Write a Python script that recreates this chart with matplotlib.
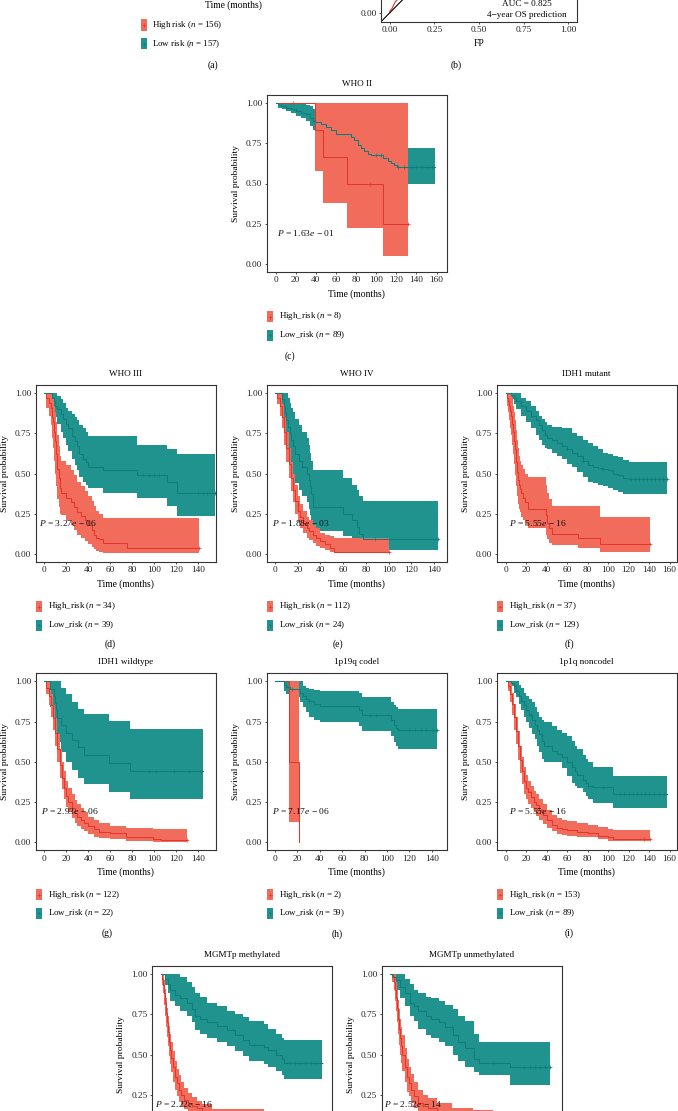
import numpy as np
import matplotlib
matplotlib.use("Agg")
import matplotlib.pyplot as plt
from matplotlib.patches import Rectangle

W, H = 678, 1111
plt.rcParams['font.family'] = ['Liberation Serif', 'DejaVu Serif']
plt.rcParams['mathtext.fontset'] = 'custom'
plt.rcParams['mathtext.rm'] = 'Liberation Serif'
plt.rcParams['mathtext.it'] = 'Liberation Serif:italic'

RED_FILL, RED_LINE = '#F26C5C', '#E4362A'
TEAL_FILL, TEAL_LINE = '#20938E', '#0F7E7A'
DARK = '#333333'

# === ROC (b), only the bottom part is visible ===
roc_fp = [0.0, 0.0, 0.01, 0.02, 0.03, 0.05, 0.07, 0.10, 0.15, 0.25, 0.40, 0.60, 0.80, 1.0]
roc_tp = [0.0, 0.01, 0.02, 0.04, 0.06, 0.08, 0.11, 0.20, 0.35, 0.55, 0.72, 0.85, 0.94, 1.0]

# === KM curves: t = step times, s = survival, lo/up = confidence band ===
# (c) WHO II
c_high_t = [0, 39, 47, 71, 107, 132]
c_high_s = [1, .833, .667, .5, .25, .25]
c_high_lo = [1, .58, .378, .226, .05, .05]
c_high_up = [1, 1, 1, 1, 1, 1]
c_low_t = [0, 2, 6, 10, 15, 20, 25, 30, 34, 37, 39, 45, 50, 55, 60, 75, 78, 82, 85, 88, 92, 95, 107, 112, 115, 118, 121, 158]
c_low_s = [1, .99, .98, .97, .96, .95, .94, .93, .91, .89, .88, .87, .85, .83, .81, .79, .77, .74, .72, .70, .685, .675, .66, .64, .63, .615, .60, .60]
c_low_lo = [1, .97, .96, .95, .94, .92, .91, .89, .86, .83, .81, .80, .78, .76, .73, .71, .69, .66, .63, .61, .59, .58, .56, .54, .53, .515, .50, .50]
c_low_up = [1, 1, 1, 1, 1, 1, 1, .99, .98, .965, .96, .955, .94, .93, .91, .90, .88, .86, .84, .82, .81, .80, .79, .77, .76, .74, .72, .72]
c_cens_high = [17, 94, 132]
c_cens_low = [100, 105, 122, 128, 135, 140, 145, 150, 155]

# (d) WHO III
d_high_t = [0, 2, 4, 6, 7, 8, 9, 10, 11, 12, 13, 14, 15.5, 20, 24, 27, 30, 33, 37, 40, 43, 45, 47, 50, 53, 75, 141]
d_high_s = [1, .97, .94, .91, .85, .82, .76, .70, .62, .53, .47, .41, .38, .35, .32, .29, .26, .235, .21, .18, .15, .12, .10, .09, .065, .035, .035]
d_high_lo = [1, .91, .86, .80, .72, .66, .58, .50, .42, .34, .29, .25, .24, .21, .18, .15, .12, .10, .08, .06, .045, .03, .02, .012, .005, .003, .003]
d_high_up = [1, 1, 1, 1, .98, .96, .92, .88, .82, .74, .67, .61, .58, .55, .52, .49, .45, .42, .39, .36, .33, .30, .27, .25, .223, .223, .223]
d_low_t = [0, 7, 9, 10, 12, 15, 17, 20, 22, 25, 28, 30, 32, 35, 38, 40, 53, 84, 112, 121, 155]
d_low_s = [1, .97, .95, .92, .90, .87, .84, .81, .78, .73, .70, .67, .62, .59, .57, .54, .52, .49, .445, .38, .38]
d_low_lo = [1, .93, .89, .85, .81, .76, .72, .68, .64, .59, .55, .52, .48, .45, .43, .41, .38, .35, .30, .235, .235]
d_low_up = [1, 1, 1, 1, .98, .96, .94, .91, .89, .87, .85, .83, .80, .78, .76, .73, .73, .68, .65, .62, .62]
d_cens_high = [141]
d_cens_low = [90, 95, 100, 104, 140, 144, 148, 155]

# (e) WHO IV
e_high_t = [0, 2, 4, 6, 8, 10, 12, 14, 16, 18, 20, 22, 25, 28, 30, 33, 36, 40, 44, 48, 52, 100]
e_high_s = [1, .97, .92, .85, .76, .66, .56, .47, .40, .33, .27, .23, .19, .16, .14, .12, .10, .08, .06, .04, .015, .015]
e_high_lo = [1, .93, .86, .78, .68, .57, .47, .39, .32, .25, .20, .16, .13, .10, .085, .07, .05, .035, .025, .015, .003, .003]
e_high_up = [1, 1, 1, .93, .85, .76, .66, .57, .50, .43, .36, .31, .27, .23, .21, .18, .16, .13, .12, .11, .10, .10]
e_low_t = [0, 6, 8, 9, 10, 11, 13, 14, 16, 18, 21, 24, 28, 30, 31, 32, 33, 60, 68, 72, 74, 77, 143]
e_low_s = [1, .96, .92, .875, .83, .79, .75, .71, .67, .62, .58, .54, .50, .46, .42, .375, .29, .25, .21, .17, .125, .09, .09]
e_low_lo = [1, .88, .82, .76, .70, .65, .59, .54, .49, .44, .40, .36, .32, .28, .24, .20, .14, .11, .08, .06, .04, .025, .025]
e_low_up = [1, 1, 1, 1, 1, .97, .94, .91, .88, .84, .80, .76, .72, .68, .63, .58, .52, .47, .43, .40, .36, .33, .33]
e_cens_high = [100]
e_cens_low = [88, 143]

# (f) IDH1 mutant
f_high_t = [0, 1, 2, 3, 4, 5, 6, 7, 8, 9, 10, 11, 12, 13, 14, 15, 17, 19, 22, 39, 40, 42, 45, 71, 92, 141]
f_high_s = [1, .97, .95, .92, .89, .86, .81, .76, .70, .65, .57, .51, .46, .43, .405, .38, .35, .32, .28, .24, .19, .16, .125, .10, .06, .06]
f_high_lo = [1, .92, .88, .83, .78, .74, .68, .62, .56, .49, .42, .36, .31, .28, .26, .23, .21, .18, .16, .12, .09, .07, .055, .035, .015, .015]
f_high_up = [1, 1, 1, 1, 1, 1, .97, .92, .88, .83, .77, .71, .66, .61, .58, .55, .53, .50, .48, .43, .38, .34, .30, .30, .23, .23]
f_low_t = [0, 5, 8, 10, 15, 20, 25, 30, 33, 35, 38, 40, 45, 50, 55, 60, 65, 70, 75, 80, 85, 90, 95, 100, 105, 110, 115, 120, 158]
f_low_s = [1, .99, .97, .95, .92, .89, .86, .83, .80, .77, .74, .72, .71, .69, .67, .65, .63, .61, .58, .55, .54, .535, .53, .52, .50, .49, .475, .465, .465]
f_low_lo = [1, .96, .93, .90, .86, .82, .78, .74, .71, .68, .66, .65, .63, .61, .59, .56, .54, .51, .48, .45, .44, .43, .42, .41, .40, .385, .375, .375, .375]
f_low_up = [1, 1, 1, 1, .97, .95, .92, .89, .86, .84, .82, .80, .79, .79, .78, .78, .75, .73, .71, .69, .67, .65, .63, .62, .61, .60, .585, .57, .57]
f_cens_high = [141]
f_cens_low = [60, 75, 95, 122, 126, 130, 134, 138, 142, 146, 150, 154, 158]

# (g) IDH1 wildtype
g_high_t = [0, 2, 4, 6, 8, 10, 12, 14, 16, 18, 20, 22, 25, 28, 30, 33, 36, 40, 45, 50, 60, 74, 99, 106, 130]
g_high_s = [1, .96, .91, .85, .77, .68, .58, .48, .40, .34, .29, .25, .21, .18, .16, .14, .12, .10, .08, .065, .055, .035, .02, .012, .012]
g_high_lo = [1, .92, .85, .78, .70, .60, .50, .40, .33, .27, .22, .19, .15, .12, .10, .085, .07, .05, .035, .025, .018, .01, .004, .002, .002]
g_high_up = [1, 1, 1, .92, .85, .77, .67, .58, .50, .44, .38, .34, .30, .26, .24, .21, .19, .16, .14, .12, .10, .09, .085, .085, .085]
g_low_t = [0, 5, 9, 10, 11, 12, 15, 20, 25, 31, 36, 59, 78, 144]
g_low_s = [1, .955, .91, .865, .82, .77, .73, .68, .635, .59, .545, .49, .44, .44]
g_low_lo = [1, .84, .77, .72, .66, .62, .56, .50, .45, .40, .36, .31, .27, .27]
g_low_up = [1, 1, 1, 1, 1, 1, .96, .92, .87, .83, .80, .755, .705, .705]
g_cens_high = [130]
g_cens_low = [95, 102, 118, 132, 143]

# (h) 1p19q codel
h_high_t = [0, 12.5, 21]
h_high_s = [1, .5, 0]
h_high_lo = [1, .125, .125]
h_high_up = [1, 1, 1]
h_low_t = [0, 8, 10, 13, 22, 25, 28, 30, 35, 40, 75, 78, 104, 106, 108, 110, 145]
h_low_s = [1, .98, .965, .95, .93, .91, .89, .875, .86, .845, .82, .79, .76, .73, .71, .695, .695]
h_low_lo = [1, .94, .92, .90, .87, .84, .81, .78, .76, .75, .72, .69, .66, .62, .60, .58, .58]
h_low_up = [1, 1, 1, 1, 1, .97, .96, .95, .945, .94, .93, .90, .87, .85, .84, .83, .83]
h_cens_high = []
h_cens_low = [15, 30, 85, 90, 120, 125, 130, 135, 140, 145]

# (i) 1p1q noncodel
i_high_t = [0, 2, 4, 6, 8, 10, 12, 14, 16, 18, 20, 22, 25, 28, 30, 33, 36, 40, 45, 50, 55, 60, 70, 80, 90, 100, 105, 141]
i_high_s = [1, .97, .92, .86, .78, .69, .60, .51, .44, .38, .34, .31, .28, .25, .23, .20, .17, .14, .11, .09, .08, .075, .065, .055, .04, .03, .023, .023]
i_high_lo = [1, .94, .87, .79, .70, .61, .51, .43, .36, .30, .27, .24, .21, .185, .165, .14, .115, .09, .07, .05, .045, .04, .035, .03, .02, .01, .005, .005]
i_high_up = [1, 1, 1, .93, .86, .78, .69, .60, .53, .47, .42, .38, .35, .32, .30, .27, .24, .20, .17, .15, .14, .13, .12, .11, .095, .085, .077, .077]
i_low_t = [0, 5, 8, 10, 13, 15, 18, 20, 23, 26, 29, 31, 33, 35, 37, 45, 50, 55, 60, 65, 68, 70, 75, 78, 80, 85, 105, 158]
i_low_s = [1, .99, .97, .94, .91, .88, .85, .82, .79, .76, .73, .70, .67, .63, .60, .565, .55, .53, .50, .47, .44, .42, .39, .37, .35, .345, .30, .30]
i_low_lo = [1, .97, .93, .90, .86, .82, .78, .75, .71, .67, .64, .60, .56, .52, .50, .50, .50, .46, .41, .37, .35, .34, .31, .29, .27, .245, .21, .21]
i_low_up = [1, 1, 1, 1, .98, .96, .93, .91, .89, .87, .84, .81, .78, .76, .75, .72, .70, .68, .66, .63, .60, .58, .54, .52, .50, .465, .413, .413]
i_cens_high = [135, 141]
i_cens_low = [25, 80, 95, 112, 116, 120, 124, 128, 132, 136, 140, 145, 150, 155]

# (j) MGMTp methylated
j_high_t = [0, 1, 2, 3, 4, 5, 6, 7, 8, 9, 10, 12, 14, 16, 18, 20, 23, 26, 30, 35, 40, 50, 60, 80, 100, 145]
j_high_s = [1, .97, .93, .88, .82, .76, .70, .64, .58, .53, .48, .42, .36, .32, .28, .25, .22, .20, .18, .165, .15, .12, .10, .08, .06, .06]
j_high_lo = [1, .93, .88, .81, .74, .67, .61, .55, .49, .44, .39, .33, .28, .24, .21, .18, .16, .145, .13, .12, .11, .085, .07, .05, .035, .035]
j_high_up = [1, 1, 1, .96, .91, .85, .79, .74, .68, .63, .58, .52, .46, .41, .37, .33, .29, .26, .235, .21, .19, .16, .16, .16, .13, .13]
j_low_t = [0, 4, 7, 9, 14, 19, 25, 30, 33, 38, 45, 54, 64, 72, 80, 85, 100, 104, 112, 117, 119, 156]
j_low_s = [1, .97, .94, .90, .87, .85, .82, .78, .74, .72, .70, .68, .65, .62, .59, .56, .545, .53, .50, .47, .45, .45]
j_low_lo = [1, .93, .88, .83, .80, .77, .74, .70, .65, .63, .60, .58, .55, .52, .49, .46, .44, .42, .40, .37, .35, .35]
j_low_up = [1, 1, 1, 1, 1, .98, .95, .92, .88, .86, .82, .80, .77, .75, .73, .71, .69, .66, .63, .60, .59, .59]
j_cens_high = []
j_cens_low = [70, 90, 125, 130, 135, 140, 145, 150, 155]

# (k) MGMTp unmethylated
k_high_t = [0, 2, 4, 5, 6, 7, 8, 9, 10, 11, 12, 14, 16, 18, 20, 23, 27, 32, 37, 45, 60, 80, 100, 130]
k_high_s = [1, .98, .95, .90, .85, .79, .72, .66, .60, .55, .50, .42, .36, .32, .28, .24, .20, .18, .165, .14, .11, .09, .07, .07]
k_high_lo = [1, .95, .90, .83, .77, .70, .63, .56, .50, .45, .40, .33, .27, .24, .20, .17, .14, .12, .11, .09, .07, .05, .035, .035]
k_high_up = [1, 1, 1, 1, .95, .90, .84, .78, .72, .67, .62, .54, .47, .42, .38, .33, .28, .25, .23, .20, .17, .155, .14, .14]
k_low_t = [0, 3, 6, 10, 14, 19, 23, 27, 35, 40, 47, 53, 61, 66, 72, 81, 86, 116, 155]
k_low_s = [1, .98, .96, .92, .88, .82, .80, .77, .74, .72, .70, .67, .62, .58, .54, .47, .445, .42, .42]
k_low_lo = [1, .95, .90, .85, .80, .74, .71, .66, .62, .60, .58, .55, .50, .46, .42, .39, .37, .31, .31]
k_low_up = [1, 1, 1, 1, .97, .94, .90, .88, .86, .85, .83, .81, .78, .74, .71, .63, .575, .575, .575]
k_cens_high = []
k_cens_low = [60, 100, 130, 135, 140, 145, 150, 155]

titles = ['WHO II', 'WHO III', 'WHO IV', 'IDH1 mutant', 'IDH1 wildtype', '1p19q codel',
          '1p1q noncodel', 'MGMTp methylated', 'MGMTp unmethylated']
pvals = ['1.63', '3.27', '1.88', '5.55', '2.93', '7.17', '5.55', '2.22', '2.52']
pexps = ['01', '06', '03', '16', '06', '06', '16', '16', '14']
n_high = [8, 34, 112, 37, 122, 2, 153, 0, 0]
n_low = [89, 39, 24, 129, 22, 59, 89, 0, 0]
tags = ['(c)', '(d)', '(e)', '(f)', '(g)', '(h)', '(i)', '', '']
ytick_vals = [0, 0.25, 0.5, 0.75, 1.0]
ytick_text = ['0.00', '0.25', '0.50', '0.75', '1.00']

fig = plt.figure(figsize=(W / 100, H / 100), dpi=100)


def px_axes(left, top, w, h):
    return fig.add_axes([left / W, 1 - (top + h) / H, w / W, h / H])


def fy(y):
    return 1 - y / H


def step_at(t, s, x):
    idx = np.searchsorted(t, x, side='right') - 1
    return np.asarray(s)[np.clip(idx, 0, len(s) - 1)]


def style_axes(ax):
    for sp in ax.spines.values():
        sp.set_color(DARK)
        sp.set_linewidth(0.8)
    ax.tick_params(length=1.6, width=0.6, color=DARK, pad=1.6, labelsize=6.7, labelcolor='#222222')


BW, BH = 180, 177
layout = [
    # box left, box top, xlim, xmax tick, pval x, tag position
    (266.7, 95, (-8.8, 170), 160, 1.6, (290, 355.7)),
    (35.7, 385, (-7.8, 156), 140, -4.5, (110, 644)),
    (266.7, 385, (-7.3, 151), 140, -2.9, (338, 644)),
    (496.7, 385, (-8.8, 167), 160, 3.2, (569, 644)),
    (35.7, 673.3, (-7.8, 156), 140, -3.3, (107, 933.5)),
    (266.7, 673.3, (-7.4, 153.3), 140, -3.0, (337.3, 934)),
    (496.7, 673.3, (-8.8, 167), 160, 3.6, (569, 933.5)),
    (152.3, 966, (-8.1, 166), 160, -5.5, None),
    (381.7, 966, (-8.1, 166), 160, -5.5, None),
]
curves = [
    (c_high_t, c_high_s, c_high_lo, c_high_up, c_cens_high, c_low_t, c_low_s, c_low_lo, c_low_up, c_cens_low),
    (d_high_t, d_high_s, d_high_lo, d_high_up, d_cens_high, d_low_t, d_low_s, d_low_lo, d_low_up, d_cens_low),
    (e_high_t, e_high_s, e_high_lo, e_high_up, e_cens_high, e_low_t, e_low_s, e_low_lo, e_low_up, e_cens_low),
    (f_high_t, f_high_s, f_high_lo, f_high_up, f_cens_high, f_low_t, f_low_s, f_low_lo, f_low_up, f_cens_low),
    (g_high_t, g_high_s, g_high_lo, g_high_up, g_cens_high, g_low_t, g_low_s, g_low_lo, g_low_up, g_cens_low),
    (h_high_t, h_high_s, h_high_lo, h_high_up, h_cens_high, h_low_t, h_low_s, h_low_lo, h_low_up, h_cens_low),
    (i_high_t, i_high_s, i_high_lo, i_high_up, i_cens_high, i_low_t, i_low_s, i_low_lo, i_low_up, i_cens_low),
    (j_high_t, j_high_s, j_high_lo, j_high_up, j_cens_high, j_low_t, j_low_s, j_low_lo, j_low_up, j_cens_low),
    (k_high_t, k_high_s, k_high_lo, k_high_up, k_cens_high, k_low_t, k_low_s, k_low_lo, k_low_up, k_cens_low),
]


def legend_key(x, y, fill, line):
    fig.add_artist(Rectangle((x / W, fy(y + 5.5)), 6 / W, 11 / H, transform=fig.transFigure,
                             facecolor=fill, edgecolor='none'))
    fig.add_artist(plt.Line2D([(x + 3) / W], [fy(y)], marker='+', ms=2.2, mew=0.5,
                              color=line, transform=fig.transFigure))


for k in range(len(titles)):
    left, top, xlim, xmax, pvx, tagpos = layout[k]
    ht, hs, hlo, hup, hc, lt, ls, llo, lup, lc = curves[k]
    bottom_row = tagpos is None
    ax = px_axes(left, top, BW, BH)
    ax.fill_between(lt, llo, lup, step='post', color=TEAL_FILL, lw=0)
    ax.fill_between(ht, hlo, hup, step='post', color=RED_FILL, lw=0)
    ax.step(ht, hs, where='post', color=RED_LINE, lw=0.75)
    ax.step(lt, ls, where='post', color=TEAL_LINE, lw=0.75)
    if hc:
        ax.plot(hc, step_at(ht, hs, hc), '+', ms=2.5, mew=0.5, color=RED_LINE)
    ax.plot(lc, step_at(lt, ls, lc), '+', ms=2.5, mew=0.5, color=TEAL_LINE)
    ax.set_xlim(*xlim)
    ax.set_ylim(-0.05, 1.05)
    ax.set_xticks(np.arange(0, xmax + 1, 20))
    style_axes(ax)
    if bottom_row:
        # the lower part of these two panels lies below the page
        ax.set_yticks(ytick_vals[1:])
        ax.set_yticklabels(ytick_text[1:])
        ax.tick_params(axis='x', labelbottom=False)
    else:
        ax.set_yticks(ytick_vals)
        ax.set_yticklabels(ytick_text)
        ax.set_xlabel('Time (months)', fontsize=6.9)
        ax.xaxis.set_label_coords(0.5, -17.5 / BH)
    ax.set_ylabel('Survival probability', fontsize=6.8)
    ax.yaxis.set_label_coords(-27 / BW, 0.5)
    ax.text(0.5, 1 + 11 / BH, titles[k], transform=ax.transAxes, ha='center', va='center', fontsize=6.6)
    ax.text(pvx, 0.195, r'$P$ = ' + pvals[k] + r'$e$ − ' + pexps[k], ha='left', va='center',
            fontsize=6.8, color='#111111')
    bottom = top + BH
    if not bottom_row:
        legend_key(left + 0.5, bottom + 44.5, RED_FILL, RED_LINE)
        legend_key(left + 0.5, bottom + 63, TEAL_FILL, TEAL_LINE)
        fig.text((left + 12.5) / W, fy(bottom + 44.5), r'High_risk ($n$ = %d)' % n_high[k],
                 ha='left', va='center', fontsize=6.4)
        fig.text((left + 12.5) / W, fy(bottom + 63), r'Low_risk ($n$ = %d)' % n_low[k],
                 ha='left', va='center', fontsize=6.4)
        fig.text(tagpos[0] / W, fy(tagpos[1]), tags[k], ha='center', va='center', fontsize=7)

# === Panel (a): only its x label and legend remain in view ===
fig.text(233 / W, fy(5), 'Time (months)', ha='center', va='center', fontsize=6.9)
legend_key(141, 25, RED_FILL, RED_LINE)
legend_key(141, 43.7, TEAL_FILL, TEAL_LINE)
fig.text(152 / W, fy(25), r'High risk ($n$ = 156)', ha='left', va='center', fontsize=6.4)
fig.text(152 / W, fy(43.7), r'Low risk ($n$ = 157)', ha='left', va='center', fontsize=6.4)
fig.text(213 / W, fy(65), '(a)', ha='center', va='center', fontsize=7)

# === Panel (b): ROC, mostly above the page ===
axb = px_axes(381, 21.7 - 199, 196, 199)
axb.plot(roc_fp, roc_tp, color=RED_LINE, lw=0.8)
axb.axline((0, 0), slope=1, color='black', lw=0.8)
axb.set_xlim(-0.05, 1.05)
axb.set_ylim(-0.05, 1.05)
axb.set_xticks([0, 0.25, 0.5, 0.75, 1.0])
axb.set_xticklabels(['0.00', '0.25', '0.50', '0.75', '1.00'])
axb.set_yticks([0])
axb.set_yticklabels(['0.00'])
style_axes(axb)
axb.set_xlabel('FP', fontsize=6.9)
axb.xaxis.set_label_coords(0.5, -17 / 199)
axb.text(0.77, 0.05, 'AUC = 0.825', ha='center', va='center', fontsize=6.6)
axb.text(0.77, -0.013, '4−year OS prediction', ha='center', va='center', fontsize=6.6)
fig.text(456.5 / W, fy(65), '(b)', ha='center', va='center', fontsize=7)

fig.savefig('out.png', dpi=100)
